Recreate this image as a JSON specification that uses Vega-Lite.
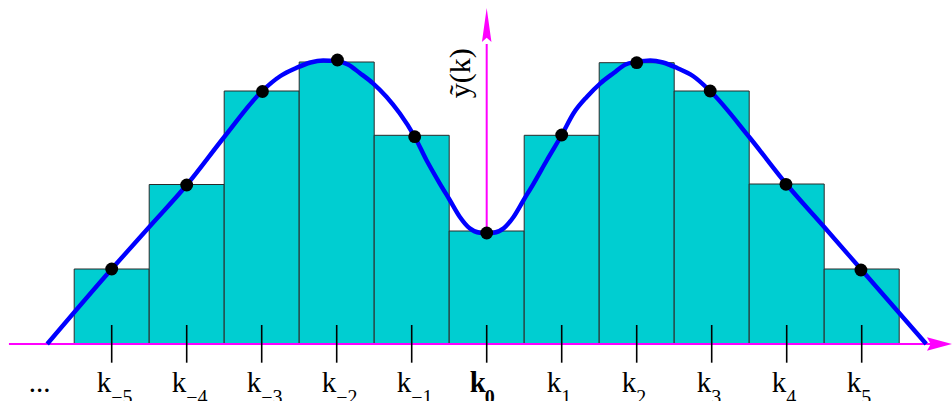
{
  "$schema": "https://vega.github.io/schema/vega-lite/v6.json",
  "width": 952,
  "height": 401,
  "padding": 0,
  "autosize": {"type": "none"},
  "config": {"view": {"stroke": null}},
  "layer": [
    {
      "data": {"values": [{"x": 0, "y0": 0, "y1": 3.0}]},
      "mark": {"type": "rule", "color": "#FF00FF", "strokeWidth": 2},
      "encoding": {
        "x": {"field": "x", "type": "quantitative", "scale": {"domain": [-6.4893, 6.204], "nice": false, "zero": false}, "axis": null},
        "y": {"field": "y0", "type": "quantitative", "scale": {"domain": [-0.57, 3.44], "nice": false, "zero": false}, "axis": null},
        "y2": {"field": "y1"}
      }
    },
    {
      "data": {"values": [
        {"k": -5, "lo": -5.5, "hi": -4.5, "h": 0.75, "base": 0},
        {"k": -4, "lo": -4.5, "hi": -3.5, "h": 1.595, "base": 0},
        {"k": -3, "lo": -3.5, "hi": -2.5, "h": 2.53, "base": 0},
        {"k": -2, "lo": -2.5, "hi": -1.5, "h": 2.82, "base": 0},
        {"k": -1, "lo": -1.5, "hi": -0.5, "h": 2.087, "base": 0},
        {"k": 0, "lo": -0.5, "hi": 0.5, "h": 1.13, "base": 0},
        {"k": 1, "lo": 0.5, "hi": 1.5, "h": 2.087, "base": 0},
        {"k": 2, "lo": 1.5, "hi": 2.5, "h": 2.813, "base": 0},
        {"k": 3, "lo": 2.5, "hi": 3.5, "h": 2.53, "base": 0},
        {"k": 4, "lo": 3.5, "hi": 4.5, "h": 1.6, "base": 0},
        {"k": 5, "lo": 4.5, "hi": 5.5, "h": 0.75, "base": 0}
      ]},
      "mark": {"type": "bar", "fill": "#00CED1", "stroke": "#2a2a2a", "strokeWidth": 1},
      "encoding": {
        "x": {"field": "lo", "type": "quantitative", "axis": null},
        "x2": {"field": "hi"},
        "y": {"field": "h", "type": "quantitative", "axis": null},
        "y2": {"field": "base"}
      }
    },
    {
      "data": {"values": [{"x0": -6.37, "x1": 5.95, "y": 0}]},
      "mark": {"type": "rule", "color": "#FF00FF", "strokeWidth": 2},
      "encoding": {
        "x": {"field": "x0", "type": "quantitative", "axis": null},
        "x2": {"field": "x1"},
        "y": {"field": "y", "type": "quantitative", "axis": null}
      }
    },
    {
      "data": {"values": [{"x": 6.037, "y": 0}]},
      "mark": {"type": "point", "filled": true, "color": "#FF00FF", "strokeWidth": 0, "opacity": 1, "size": 625, "shape": "M1,0L-1,-0.54L-0.7,0L-1,0.54Z"},
      "encoding": {
        "x": {"field": "x", "type": "quantitative", "axis": null},
        "y": {"field": "y", "type": "quantitative", "axis": null}
      }
    },
    {
      "data": {"values": [{"x": 0, "y": 3.19}]},
      "mark": {"type": "point", "filled": true, "color": "#FF00FF", "strokeWidth": 0, "opacity": 1, "size": 1156, "shape": "M0,-1L0.28,1L0,0.75L-0.28,1Z"},
      "encoding": {
        "x": {"field": "x", "type": "quantitative", "axis": null},
        "y": {"field": "y", "type": "quantitative", "axis": null}
      }
    },
    {
      "data": {"values": [
        {"k": -5, "top": 0.19, "bot": -0.187},
        {"k": -4, "top": 0.19, "bot": -0.187},
        {"k": -3, "top": 0.19, "bot": -0.187},
        {"k": -2, "top": 0.19, "bot": -0.187},
        {"k": -1, "top": 0.19, "bot": -0.187},
        {"k": 0, "top": 0.19, "bot": -0.187},
        {"k": 1, "top": 0.19, "bot": -0.187},
        {"k": 2, "top": 0.19, "bot": -0.187},
        {"k": 3, "top": 0.19, "bot": -0.187},
        {"k": 4, "top": 0.19, "bot": -0.187},
        {"k": 5, "top": 0.19, "bot": -0.187}
      ]},
      "mark": {"type": "rule", "color": "#000000", "strokeWidth": 1.6},
      "encoding": {
        "x": {"field": "k", "type": "quantitative", "axis": null},
        "y": {"field": "top", "type": "quantitative", "axis": null},
        "y2": {"field": "bot"}
      }
    },
    {
      "data": {"values": [
        {"x": -5.86, "y": 0.0},
        {"x": -5.0, "y": 0.75},
        {"x": -4.5, "y": 1.17},
        {"x": -4.0, "y": 1.59},
        {"x": -3.5, "y": 2.07},
        {"x": -3.0, "y": 2.525},
        {"x": -2.75, "y": 2.68},
        {"x": -2.54, "y": 2.76},
        {"x": -2.35, "y": 2.815},
        {"x": -2.18, "y": 2.835},
        {"x": -2.0, "y": 2.83},
        {"x": -1.85, "y": 2.795},
        {"x": -1.693, "y": 2.71},
        {"x": -1.516, "y": 2.607},
        {"x": -1.337, "y": 2.473},
        {"x": -1.16, "y": 2.307},
        {"x": -0.96, "y": 2.073},
        {"x": -0.804, "y": 1.84},
        {"x": -0.627, "y": 1.607},
        {"x": -0.493, "y": 1.44},
        {"x": -0.36, "y": 1.273},
        {"x": -0.227, "y": 1.157},
        {"x": -0.093, "y": 1.113},
        {"x": 0.0, "y": 1.11},
        {"x": 0.093, "y": 1.113},
        {"x": 0.227, "y": 1.157},
        {"x": 0.36, "y": 1.273},
        {"x": 0.493, "y": 1.44},
        {"x": 0.627, "y": 1.607},
        {"x": 0.804, "y": 1.84},
        {"x": 1.0, "y": 2.09},
        {"x": 1.16, "y": 2.31},
        {"x": 1.337, "y": 2.473},
        {"x": 1.516, "y": 2.607},
        {"x": 1.693, "y": 2.71},
        {"x": 1.85, "y": 2.795},
        {"x": 2.0, "y": 2.82},
        {"x": 2.18, "y": 2.835},
        {"x": 2.35, "y": 2.815},
        {"x": 2.54, "y": 2.76},
        {"x": 2.75, "y": 2.68},
        {"x": 2.98, "y": 2.53},
        {"x": 3.5, "y": 2.07},
        {"x": 4.0, "y": 1.595},
        {"x": 4.5, "y": 1.17},
        {"x": 5.0, "y": 0.74},
        {"x": 5.86, "y": 0.0}
      ]},
      "mark": {"type": "line", "color": "#0000FF", "strokeWidth": 4.4, "interpolate": "monotone"},
      "encoding": {
        "x": {"field": "x", "type": "quantitative", "axis": null},
        "y": {"field": "y", "type": "quantitative", "axis": null}
      }
    },
    {
      "data": {"values": [
        {"x": -5, "y": 0.75},
        {"x": -4, "y": 1.59},
        {"x": -2.99, "y": 2.525},
        {"x": -1.99, "y": 2.84},
        {"x": -0.96, "y": 2.073},
        {"x": 0, "y": 1.11},
        {"x": 1.0, "y": 2.09},
        {"x": 2.0, "y": 2.813},
        {"x": 2.98, "y": 2.53},
        {"x": 3.99, "y": 1.597},
        {"x": 4.99, "y": 0.74}
      ]},
      "mark": {"type": "point", "filled": true, "color": "#000000", "opacity": 1, "size": 165, "shape": "circle", "strokeWidth": 0},
      "encoding": {
        "x": {"field": "x", "type": "quantitative", "axis": null},
        "y": {"field": "y", "type": "quantitative", "axis": null}
      }
    },
    {
      "data": {"values": [
        {"k": -5, "y": -0.477, "sub": "−5", "ys": -0.597},
        {"k": -4, "y": -0.477, "sub": "−4", "ys": -0.597},
        {"k": -3, "y": -0.477, "sub": "−3", "ys": -0.597},
        {"k": -2, "y": -0.477, "sub": "−2", "ys": -0.597},
        {"k": -1, "y": -0.477, "sub": "−1", "ys": -0.597},
        {"k": 1, "y": -0.477, "sub": "1", "ys": -0.597},
        {"k": 2, "y": -0.477, "sub": "2", "ys": -0.597},
        {"k": 3, "y": -0.477, "sub": "3", "ys": -0.597},
        {"k": 4, "y": -0.477, "sub": "4", "ys": -0.597},
        {"k": 5, "y": -0.477, "sub": "5", "ys": -0.597}
      ]},
      "layer": [
        {
          "mark": {"type": "text", "text": "k", "font": "Liberation Serif", "fontSize": 29, "align": "left", "baseline": "alphabetic", "dx": -15, "color": "#000000"},
          "encoding": {
            "x": {"field": "k", "type": "quantitative", "axis": null},
            "y": {"field": "y", "type": "quantitative", "axis": null}
          }
        },
        {
          "mark": {"type": "text", "font": "Liberation Serif", "fontSize": 20, "align": "left", "baseline": "alphabetic", "dx": -0.5, "color": "#000000"},
          "encoding": {
            "x": {"field": "k", "type": "quantitative", "axis": null},
            "y": {"field": "ys", "type": "quantitative", "axis": null},
            "text": {"field": "sub"}
          }
        }
      ]
    },
    {
      "data": {"values": [{"k": 0, "y": -0.477, "sub": "0", "ys": -0.597}]},
      "layer": [
        {
          "mark": {"type": "text", "text": "k", "font": "Liberation Serif", "fontSize": 29, "fontWeight": "bold", "align": "left", "baseline": "alphabetic", "dx": -17, "color": "#000000"},
          "encoding": {
            "x": {"field": "k", "type": "quantitative", "axis": null},
            "y": {"field": "y", "type": "quantitative", "axis": null}
          }
        },
        {
          "mark": {"type": "text", "font": "Liberation Serif", "fontSize": 20, "fontWeight": "bold", "align": "left", "baseline": "alphabetic", "dx": -2, "color": "#000000"},
          "encoding": {
            "x": {"field": "k", "type": "quantitative", "axis": null},
            "y": {"field": "ys", "type": "quantitative", "axis": null},
            "text": {"field": "sub"}
          }
        }
      ]
    },
    {
      "data": {"values": [{"x": -5.96, "y": -0.477, "t": "..."}]},
      "mark": {"type": "text", "font": "Liberation Serif", "fontSize": 29, "align": "center", "baseline": "alphabetic", "color": "#000000"},
      "encoding": {
        "x": {"field": "x", "type": "quantitative", "axis": null},
        "y": {"field": "y", "type": "quantitative", "axis": null},
        "text": {"field": "t"}
      }
    },
    {
      "data": {"values": [{"x": -0.22, "y": 2.707, "t": "ỹ(k)"}]},
      "mark": {"type": "text", "font": "Liberation Serif", "fontSize": 30, "align": "center", "baseline": "alphabetic", "angle": 270, "color": "#000000"},
      "encoding": {
        "x": {"field": "x", "type": "quantitative", "axis": null},
        "y": {"field": "y", "type": "quantitative", "axis": null},
        "text": {"field": "t"}
      }
    }
  ]
}
